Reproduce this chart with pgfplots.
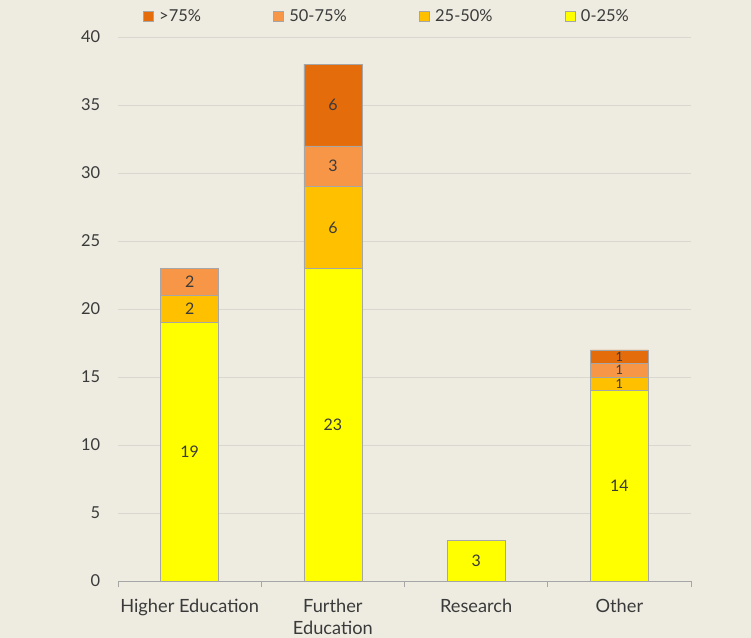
\documentclass[border=0pt]{standalone}
\usepackage{pgfplots}
\pgfplotsset{compat=1.18}
\usepackage{fontspec}
\setmainfont{Lato}
\definecolor{bg}{HTML}{EEECE1}
\definecolor{cA}{HTML}{E46C0A}
\definecolor{cB}{HTML}{F79646}
\definecolor{cC}{HTML}{FFC000}
\definecolor{cD}{HTML}{FFFF00}
\definecolor{txt}{HTML}{3A3A3A}
\definecolor{edge}{HTML}{A6A6A6}
\definecolor{gridc}{HTML}{D8D8D0}
\pgfplotsset{
  common/.style={
    at={(118bp,57bp)}, anchor=south west,
    width=573bp, height=544bp, scale only axis,
    xmin=-0.5, xmax=3.5, ymin=0, ymax=40,
  }
}
\begin{document}
\begin{tikzpicture}
\fill[bg] (0bp,0bp) rectangle (751bp,638bp);
\path[use as bounding box] (0bp,0bp) rectangle (751bp,638bp);
\begin{axis}[common,
  ybar stacked, bar width=58bp,
  ytick={0,5,...,40},
  xtick={0,1,2,3},
  xticklabels={Higher Education, Further\\Education, Research, Other},
  xticklabel style={align=center, font=\fontsize{18.3}{22}\selectfont, text=txt, yshift=-10bp},
  yticklabel style={font=\fontsize{16.5}{18}\selectfont, text=txt, xshift=-10bp},
  /pgf/number format/assume math mode=true,
  minor xtick={-0.5,0.5,1.5,2.5,3.5},
  ymajorgrids, grid style={gridc, line width=0.8pt},
  axis lines*=left, axis line style={-},
  x axis line style={edge, line width=0.8pt},
  y axis line style={draw=none},
  major tick style={draw=none},
  minor tick style={edge, line width=0.8pt},
  tick align=outside, minor tick length=6bp,
  legend style={at={(0.043,1.038)}, anchor=west, draw=none, fill=none, inner sep=0pt,
    legend columns=4, font=\fontsize{16.5}{18}\selectfont, text=txt,
    /tikz/every even column/.append style={column sep=70bp}},
  legend image code/.code={\draw[#1, draw=edge] (0bp,-5bp) rectangle (10bp,5bp); \path (14bp,0bp);},
]
\addplot[fill=cD, draw=edge, forget plot] coordinates {(0,19) (1,23) (2,3) (3,14)};
\addplot[fill=cC, draw=edge, forget plot] coordinates {(0,2) (1,6) (2,0) (3,1)};
\addplot[fill=cB, draw=edge, forget plot] coordinates {(0,2) (1,3) (2,0) (3,1)};
\addplot[fill=cA, draw=edge, forget plot] coordinates {(0,0) (1,6) (2,0) (3,1)};
\addlegendimage{fill=cA}
\addlegendimage{fill=cB}
\addlegendimage{fill=cC}
\addlegendimage{fill=cD}
\legend{>75\%, 50-75\%, 25-50\%, 0-25\%}
\end{axis}
\begin{axis}[common, hide axis]
\addplot[draw=none, mark=none, nodes near coords, point meta=explicit symbolic,
  every node near coord/.append style={anchor=center, font=\fontsize{16}{18}\selectfont, text=txt}]
table[meta=label]{
x y label
0 9.5 19
0 20 2
0 22 2
1 11.5 23
1 26 6
1 30.5 3
1 35 6
2 1.5 3
3 7 14
};
\addplot[draw=none, mark=none, nodes near coords, point meta=explicit symbolic,
  every node near coord/.append style={anchor=center, inner sep=0pt, font=\fontsize{13}{13}\selectfont, text=txt}]
table[meta=label]{
x y label
3 14.5 1
3 15.5 1
3 16.5 1
};
\end{axis}
\end{tikzpicture}
\end{document}
